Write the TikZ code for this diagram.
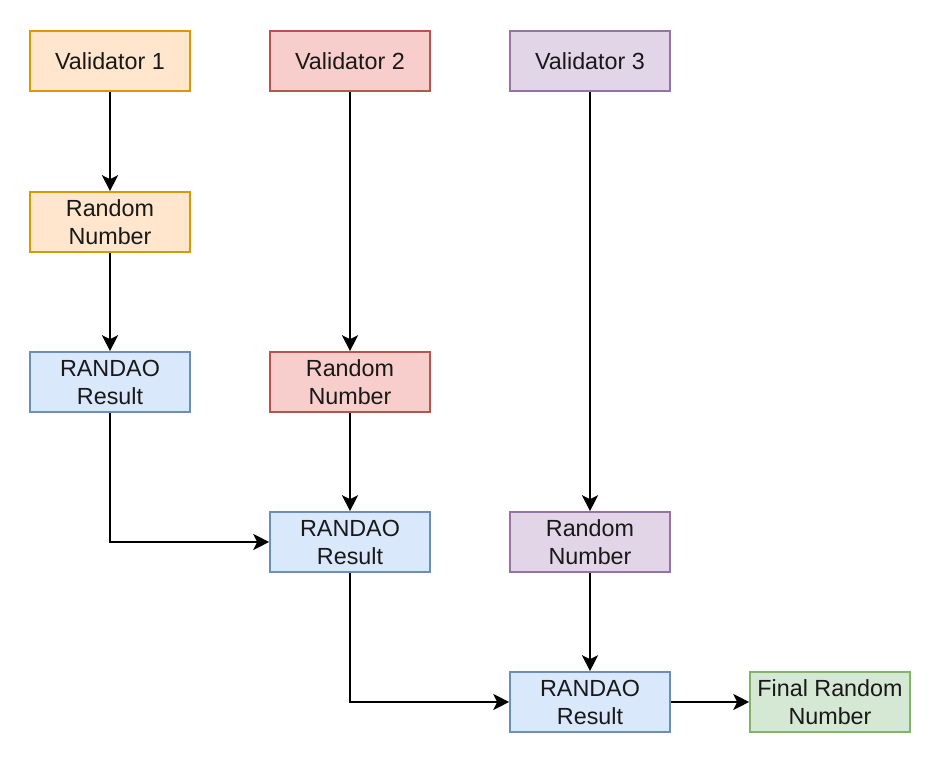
\documentclass[tikz,border=0pt]{standalone}
\usepackage{fontspec}
\setmainfont{Liberation Sans}
\usetikzlibrary{arrows.meta}
\usetikzlibrary{positioning}

\definecolor{orangefill}{HTML}{FFE6CC}
\definecolor{orangeline}{HTML}{D79B00}
\definecolor{redfill}{HTML}{F8CECC}
\definecolor{redline}{HTML}{B85450}
\definecolor{purplefill}{HTML}{E1D5E7}
\definecolor{purpleline}{HTML}{9673A6}
\definecolor{bluefill}{HTML}{DAE8FC}
\definecolor{blueline}{HTML}{6C8EBF}
\definecolor{greenfill}{HTML}{D5E8D4}
\definecolor{greenline}{HTML}{82B366}

\tikzset{
  box/.style={draw, line width=1.2pt, minimum width=120pt, minimum height=45pt,
    inner sep=0pt, align=center, text=black!90,
    font=\fontsize{17.5}{21}\selectfont},
  orangebox/.style={box, fill=orangefill, draw=orangeline},
  redbox/.style={box, fill=redfill, draw=redline},
  purplebox/.style={box, fill=purplefill, draw=purpleline},
  bluebox/.style={box, fill=bluefill, draw=blueline},
  greenbox/.style={box, fill=greenfill, draw=greenline},
  link/.style={-{Stealth[length=12pt, width=12pt, inset=3pt]}, line width=1.5pt}
}

\begin{document}
\begin{tikzpicture}[x=0.75pt, y=-0.75pt]
      \useasboundingbox (0,0) rectangle (942,762);

      % validators
      \node [orangebox] (val1) at (110,61) {Validator 1};
      \node [redbox] (val2) at (350,61) {Validator 2};
      \node [purplebox] (val3) at (590,61) {Validator 3};

      % random numbers
      \node [orangebox] (rand1) at (110,222) {Random\\Number};
      \node [redbox] (rand2) at (350,382) {Random\\Number};
      \node [purplebox] (rand3) at (590,542) {Random\\Number};

      % randao results
      \node [bluebox] (res1) at (110,382) {RANDAO\\Result};
      \node [bluebox] (res2) at (350,542) {RANDAO\\Result};
      \node [bluebox] (res3) at (590,702) {RANDAO\\Result};
      \node [greenbox] (final) at (830,702) {Final Random\\Number};

      \draw [link] (val1) -- (rand1);
      \draw [link] (rand1) -- (res1);
      \draw [link] (val2) -- (rand2);
      \draw [link] (rand2) -- (res2);
      \draw [link] (val3) -- (rand3);
      \draw [link] (rand3) -- (res3);
      \draw [link] (res1) |- (res2);
      \draw [link] (res2) |- (res3);
      \draw [link] (res3) -- (final);
    \end{tikzpicture}
\end{document}
